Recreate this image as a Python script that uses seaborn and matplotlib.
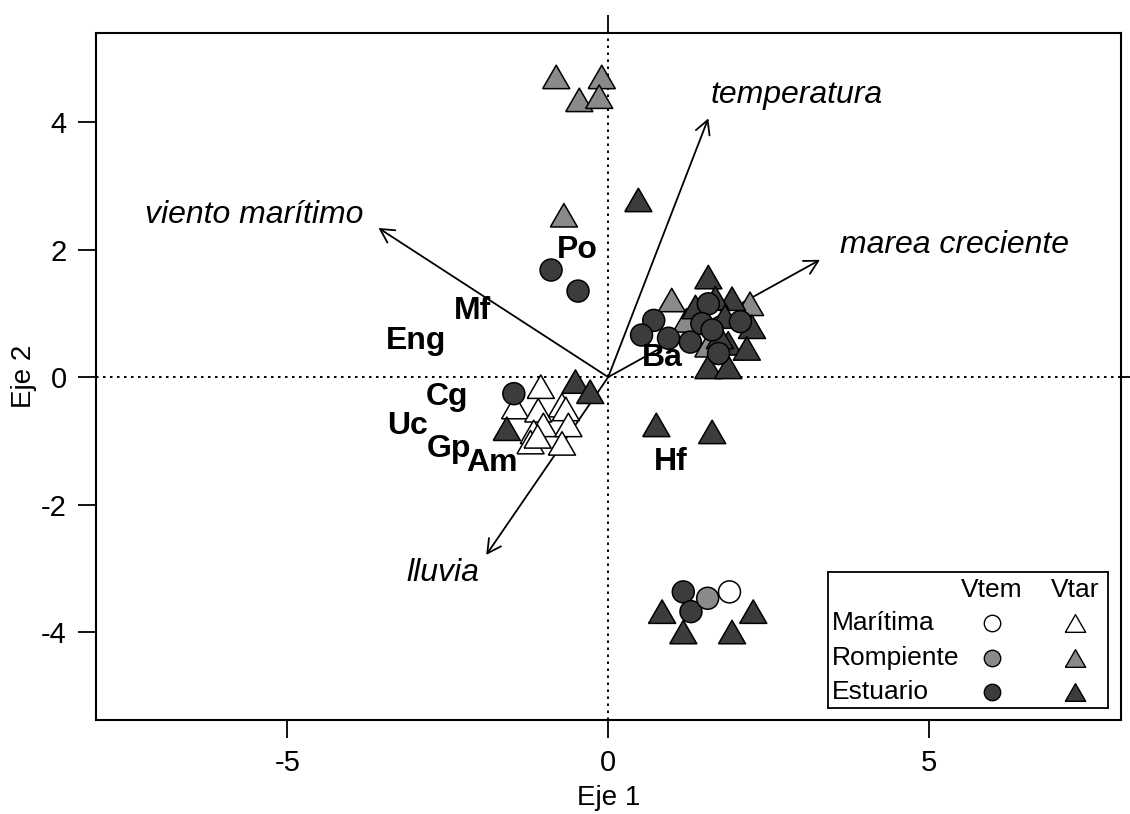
import matplotlib
matplotlib.use("Agg")
import matplotlib.pyplot as plt
import numpy as np
import pandas as pd
import seaborn as sns

# ---- Site scores (axis 1, axis 2), zone and season -------------------------
site_x = [
    # Marítima, Vtar
    -1.05, -1.45, -1.09, -0.72, -0.66, -1.01, -0.62, -1.16, -1.21, -0.72, -1.10,
    # Rompiente, Vtar
    -0.81, -0.10, -0.45, -0.14, -0.69, 0.99, 2.21, 1.22, 1.56,
    # Estuario, Vtar
    0.47, -0.51, -0.28, -1.58, 0.75, 1.62, 1.56, 1.36, 1.93, 1.67, 1.82, 2.24,
    1.87, 2.16, 1.56, 1.87, 1.74, 0.84, 2.26, 1.17, 1.93,
    # Estuario, Vtem
    -0.89, -0.47, -1.47, 1.56, 0.71, 0.52, 0.94, 1.28, 1.46, 1.62, 2.06, 1.72,
    1.17, 1.29,
    # Rompiente, Vtem
    1.55,
    # Marítima, Vtem
    1.89,
]
site_y = [
    -0.15, -0.47, -0.52, -0.44, -0.50, -0.75, -0.75, -0.86, -1.02, -1.04, -0.93,
    4.71, 4.71, 4.35, 4.40, 2.54, 1.21, 1.15, 0.89, 0.50,
    2.78, -0.07, -0.23, -0.81, -0.75, -0.86, 1.57, 1.10, 1.23, 1.24, 0.95, 0.79,
    0.53, 0.45, 0.16, 0.16, 0.63, -3.68, -3.68, -4.00, -4.00,
    1.68, 1.35, -0.26, 1.15, 0.89, 0.66, 0.61, 0.55, 0.84, 0.74, 0.87, 0.37,
    -3.37, -3.68,
    -3.47,
    -3.37,
]
site_zone = (["Marítima"] * 11 + ["Rompiente"] * 9 + ["Estuario"] * 21
             + ["Estuario"] * 14 + ["Rompiente"] + ["Marítima"])
site_season = (["Vtar"] * 11 + ["Vtar"] * 9 + ["Vtar"] * 21
               + ["Vtem"] * 14 + ["Vtem"] + ["Vtem"])

# ---- Environmental vectors ---------------------------------------------------
env_names = ["temperatura", "viento marítimo", "marea creciente", "lluvia"]
env_x = [1.56, -3.58, 3.30, -1.90]
env_y = [4.06, 2.34, 1.84, -2.79]
env_label_x = [1.59, -5.52, 5.40, -2.57]
env_label_y = [4.42, 2.54, 2.07, -3.07]
env_label_ha = ["left", "center", "center", "center"]

# ---- Species scores ----------------------------------------------------------
sp_names = ["Po", "Mf", "Eng", "Cg", "Uc", "Gp", "Am", "Ba", "Hf"]
sp_x = [-0.48, -2.12, -2.99, -2.51, -3.13, -2.48, -1.81, 0.84, 0.98]
sp_y = [1.99, 1.04, 0.56, -0.31, -0.77, -1.13, -1.35, 0.30, -1.33]

zone_order = ["Marítima", "Rompiente", "Estuario"]
zone_colors = {"Marítima": "#ffffff", "Rompiente": "#8a8a8a", "Estuario": "#3c3c3c"}
season_order = ["Vtem", "Vtar"]

# equilateral triangle (closed outline), centred on its bounding box
tri = [(-1.0, -0.866), (1.0, -0.866), (0.0, 0.866), (-1.0, -0.866)]
season_markers = {"Vtem": "o", "Vtar": tri}
season_sizes = {"Vtem": 250, "Vtar": 380}

df = pd.DataFrame({"Eje 1": site_x, "Eje 2": site_y,
                   "zona": site_zone, "epoca": site_season})

sns.set_theme(style="white")
plt.rcParams["font.family"] = ["Liberation Sans", "DejaVu Sans"]
plt.rcParams["axes.unicode_minus"] = False

fig = plt.figure(figsize=(11.3, 8.14), dpi=100)
ax = fig.add_axes([0.085, 0.1155, 0.907, 0.844])

ax.set_xlim(-7.98, 7.99)
ax.set_ylim(-5.38, 5.40)

# dotted reference lines through the origin
dot = (0, (1.3, 2.3))
ax.axhline(0, color="black", lw=1.4, ls=dot, zorder=1)
ax.axvline(0, color="black", lw=1.4, ls=dot, zorder=1)

# environmental arrows
for name, x, y in zip(env_names, env_x, env_y):
    ax.annotate("", xy=(x, y), xytext=(0, 0),
                arrowprops=dict(arrowstyle="->,head_length=0.65,head_width=0.35",
                                color="black", lw=1.3, shrinkA=0, shrinkB=0,
                                mutation_scale=15),
                zorder=2)
for name, lx, ly, ha in zip(env_names, env_label_x, env_label_y, env_label_ha):
    ax.text(lx, ly, name, fontsize=23, style="italic", ha=ha, va="center",
            color="black", zorder=5)

# sites
sns.scatterplot(data=df, x="Eje 1", y="Eje 2", hue="zona", style="epoca",
                size="epoca", hue_order=zone_order, style_order=season_order,
                size_order=season_order, palette=zone_colors,
                markers=season_markers, sizes=season_sizes,
                edgecolor="black", linewidth=1.1, legend=False, ax=ax,
                zorder=3)

# species
for name, x, y in zip(sp_names, sp_x, sp_y):
    ax.text(x, y, name, fontsize=23, fontweight="bold", ha="center",
            va="center", color="black", zorder=6)

# axes styling
ax.set_xticks([-5, 0, 5])
ax.set_yticks([-4, -2, 0, 2, 4])
ax.tick_params(axis="both", which="major", direction="out", length=13,
               width=1.3, labelsize=21, color="black", labelcolor="black",
               pad=8, bottom=True, left=True)
for s in ax.spines.values():
    s.set_visible(True)
    s.set_color("black")
    s.set_linewidth(1.5)
ax.set_xlabel("Eje 1", fontsize=20, color="black", labelpad=6)
ax.set_ylabel("Eje 2", fontsize=20, color="black", labelpad=3)
ax.grid(False)

# single ticks at the origin on the top and right sides
top = ax.secondary_xaxis("top")
top.set_xticks([0])
top.set_xticklabels([""])
top.tick_params(direction="out", length=13, width=1.3, color="black")
right = ax.secondary_yaxis("right")
right.set_yticks([0])
right.set_yticklabels([""])
right.tick_params(direction="out", length=13, width=1.3, color="black")

# legend: zones as rows, seasons as columns
lax = ax.inset_axes([0.714, 0.0175, 0.273, 0.198])
lax.set_xlim(0, 1)
lax.set_ylim(0, 1)
lax.set_xticks([])
lax.set_yticks([])
lax.set_facecolor("white")
for s in lax.spines.values():
    s.set_visible(True)
    s.set_color("black")
    s.set_linewidth(1.3)
col_x = {"Vtem": 0.585, "Vtar": 0.885}
row_y = {"Marítima": 0.625, "Rompiente": 0.368, "Estuario": 0.118}
leg_sizes = {"Vtem": 140, "Vtar": 215}
for season in season_order:
    lax.text(col_x[season], 0.87, season, fontsize=19, ha="center",
             va="center", color="black")
for z in zone_order:
    lax.text(0.015, row_y[z], z, fontsize=19, ha="left", va="center",
             color="black")
    for season in season_order:
        lax.scatter([col_x[season]], [row_y[z]], s=leg_sizes[season],
                    marker=season_markers[season], facecolor=zone_colors[z],
                    edgecolor="black", linewidth=1.0)

fig.savefig("out.png", dpi=100, facecolor="white")
